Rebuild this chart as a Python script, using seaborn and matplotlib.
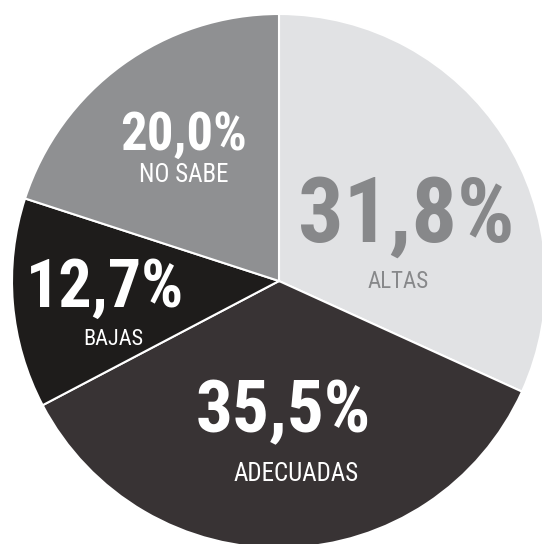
import matplotlib
matplotlib.use("Agg")
import matplotlib.pyplot as plt
import seaborn as sns

categories = ["ALTAS", "ADECUADAS", "BAJAS", "NO SABE"]
values = [31.8, 35.5, 12.7, 20.0]
value_labels = ["31,8%", "35,5%", "12,7%", "20,0%"]
colors = ["#e1e2e4", "#383334", "#1e1c1b", "#8f9092"]
num_colors = ["#87888a", "white", "white", "white"]
cat_colors = ["#87888a", "white", "white", "white"]

sns.set_theme(style="white")
plt.rcParams["font.family"] = ["Roboto Condensed", "DejaVu Sans"]

fig = plt.figure(figsize=(5.42, 5.44), dpi=100)
ax = fig.add_axes([12 / 542, -4 / 544, 534 / 542, 534 / 544])
palette = sns.color_palette(colors)
ax.pie(values, colors=palette, startangle=90, counterclock=False,
       wedgeprops=dict(edgecolor="white", linewidth=1.5))
ax.set_xlim(-1, 1)
ax.set_ylim(-1, 1)
ax.set_aspect("equal")
ax.axis("off")

# label positions (data coords) and sizes
num_pos = [(0.476, 0.146), (0.017, -0.566), (-0.652, -0.097), (-0.356, 0.491)]
num_size = [65, 52.5, 47.5, 38]
cat_pos = [(0.448, -0.026), (0.064, -0.749), (-0.622, -0.240), (-0.356, 0.371)]
cat_size = [16.5, 18, 16, 18]

for i in range(len(categories)):
    ax.text(num_pos[i][0], num_pos[i][1], value_labels[i], ha="center", va="baseline",
            fontsize=num_size[i], fontweight="bold", color=num_colors[i])
    ax.text(cat_pos[i][0], cat_pos[i][1], categories[i], ha="center", va="baseline",
            fontsize=cat_size[i], fontweight="normal", color=cat_colors[i])

fig.savefig("out.png", dpi=100)
